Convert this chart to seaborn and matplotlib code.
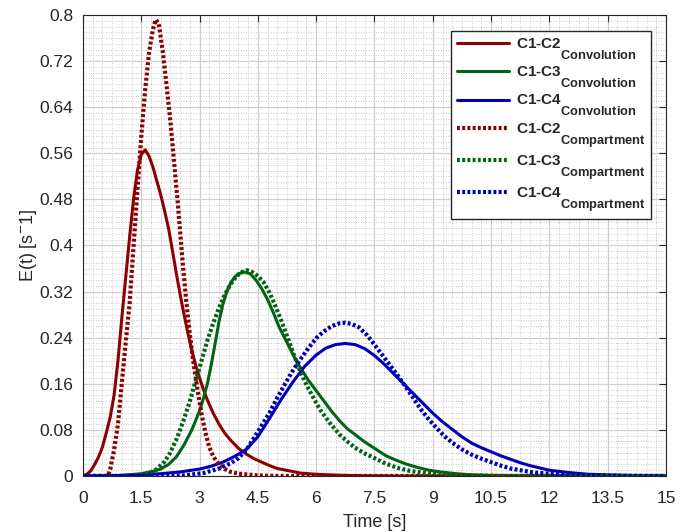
import numpy as np
import pandas as pd
import matplotlib
matplotlib.use('Agg')
import matplotlib.pyplot as plt
from matplotlib.ticker import MultipleLocator, FixedLocator
import matplotlib._mathtext as _mt
import seaborn as sns

# ---- data ----
t_conv12 = [0, 0.1, 0.2, 0.3, 0.4, 0.5, 0.6, 0.7, 0.8, 0.9, 1.0, 1.1, 1.2, 1.3, 1.4, 1.5, 1.6,
            1.7, 1.8, 1.9, 2.0, 2.1, 2.2, 2.3, 2.4, 2.5, 2.6, 2.7, 2.8, 2.9, 3.0, 3.1, 3.2, 3.35,
            3.5, 3.65, 3.8, 4.0, 4.2, 4.4, 4.6, 4.8, 5.0, 5.3, 5.6, 6.0, 6.5, 7.0, 8, 15]
E_conv12 = [0, 0.003, 0.009, 0.02, 0.033, 0.05, 0.075, 0.102, 0.14, 0.2, 0.275, 0.345, 0.415,
            0.48, 0.53, 0.558, 0.566, 0.555, 0.536, 0.512, 0.488, 0.46, 0.43, 0.392, 0.352,
            0.315, 0.28, 0.248, 0.218, 0.192, 0.17, 0.15, 0.132, 0.109, 0.09, 0.074, 0.062,
            0.048, 0.038, 0.03, 0.024, 0.018, 0.013, 0.009, 0.005, 0.003, 0.0015, 0.0007, 0, 0]

t_conv13 = [0, 0.5, 1.0, 1.5, 1.8, 2.0, 2.2, 2.4, 2.6, 2.8, 3.0, 3.1, 3.2, 3.3, 3.4, 3.5, 3.6,
            3.7, 3.8, 3.9, 4.0, 4.15, 4.3, 4.45, 4.6, 4.75, 4.9, 5.05, 5.2, 5.35, 5.5, 5.65, 5.8,
            6.0, 6.2, 6.4, 6.6, 6.8, 7.0, 7.25, 7.5, 7.8, 8.0, 8.3, 8.6, 8.9, 9.2, 9.6, 10, 10.5,
            11.5, 15]
E_conv13 = [0, 0, 0.001, 0.004, 0.008, 0.012, 0.02, 0.033, 0.054, 0.08, 0.113, 0.135, 0.16,
            0.193, 0.23, 0.268, 0.298, 0.32, 0.335, 0.345, 0.351, 0.354, 0.351, 0.34, 0.325,
            0.306, 0.283, 0.258, 0.238, 0.218, 0.198, 0.182, 0.166, 0.148, 0.13, 0.112, 0.096,
            0.082, 0.072, 0.059, 0.048, 0.035, 0.029, 0.021, 0.015, 0.01, 0.007, 0.004, 0.002,
            0.001, 0, 0]

t_conv14 = [0, 1.0, 1.5, 2.0, 2.5, 3.0, 3.3, 3.6, 3.9, 4.2, 4.5, 4.8, 5.1, 5.4, 5.7, 6.0,
            6.25, 6.5, 6.75, 7.0, 7.25, 7.5, 7.75, 8.0, 8.25, 8.5, 8.75, 9.0, 9.25, 9.5, 9.75,
            10.0, 10.25, 10.5, 10.75, 11.0, 11.25, 11.5, 11.75, 12.0, 12.5, 13.0, 13.5, 14.0, 15]
E_conv14 = [0, 0.001, 0.002, 0.004, 0.007, 0.012, 0.017, 0.024, 0.034, 0.046, 0.068, 0.1,
            0.133, 0.163, 0.19, 0.21, 0.222, 0.228, 0.230, 0.228, 0.221, 0.209, 0.194, 0.177,
            0.16, 0.143, 0.126, 0.109, 0.094, 0.081, 0.068, 0.057, 0.049, 0.042, 0.035, 0.029,
            0.023, 0.018, 0.014, 0.01, 0.006, 0.003, 0.002, 0.001, 0]

t_comp12 = [0, 0.6, 0.65, 0.7, 0.8, 0.9, 1.0, 1.1, 1.2, 1.3, 1.4, 1.5, 1.6, 1.7, 1.8, 1.87,
            1.95, 2.05, 2.15, 2.25, 2.35, 2.45, 2.55, 2.65, 2.75, 2.85, 2.95, 3.05, 3.15, 3.25,
            3.35, 3.5, 3.65, 3.8, 4.0, 4.5, 5, 15]
E_comp12 = [0, 0, 0.002, 0.012, 0.045, 0.09, 0.162, 0.232, 0.30, 0.398, 0.495, 0.59, 0.67,
            0.735, 0.775, 0.792, 0.785, 0.738, 0.678, 0.615, 0.54, 0.465, 0.382, 0.308, 0.245,
            0.193, 0.148, 0.108, 0.075, 0.05, 0.034, 0.02, 0.012, 0.007, 0.004, 0.001, 0, 0]

t_comp13 = [0, 1.2, 1.5, 1.7, 1.9, 2.1, 2.24, 2.4, 2.58, 2.75, 2.9, 3.05, 3.2, 3.35, 3.5, 3.65,
            3.8, 3.95, 4.1, 4.22, 4.35, 4.5, 4.65, 4.8, 4.95, 5.1, 5.25, 5.4, 5.55, 5.75, 5.95,
            6.1, 6.35, 6.6, 6.8, 7.0, 7.25, 7.5, 7.8, 8.1, 8.4, 8.7, 9.2, 10, 11, 15]
E_comp13 = [0, 0, 0.002, 0.005, 0.012, 0.025, 0.04, 0.063, 0.095, 0.13, 0.165, 0.2, 0.235,
            0.265, 0.292, 0.315, 0.333, 0.347, 0.354, 0.357, 0.354, 0.347, 0.336, 0.318, 0.295,
            0.27, 0.243, 0.215, 0.188, 0.158, 0.133, 0.115, 0.092, 0.072, 0.06, 0.049, 0.039,
            0.031, 0.021, 0.014, 0.009, 0.006, 0.003, 0.001, 0, 0]

t_comp14 = [0, 2.0, 2.6, 3.1, 3.5, 3.8, 4.0, 4.2, 4.4, 4.6, 4.8, 5.0, 5.2, 5.4, 5.6, 5.8, 6.0,
            6.2, 6.4, 6.6, 6.75, 6.9, 7.1, 7.3, 7.5, 7.7, 7.9, 8.1, 8.3, 8.5, 8.7, 8.9, 9.1, 9.3,
            9.5, 9.75, 10.0, 10.25, 10.5, 10.75, 11.0, 11.25, 11.6, 12.0, 12.5, 13.5, 15]
E_comp14 = [0, 0, 0.001, 0.005, 0.013, 0.022, 0.031, 0.045, 0.066, 0.088, 0.11, 0.136, 0.16,
            0.183, 0.203, 0.222, 0.239, 0.251, 0.26, 0.265, 0.266, 0.264, 0.258, 0.245, 0.228,
            0.21, 0.192, 0.174, 0.155, 0.135, 0.115, 0.098, 0.083, 0.069, 0.058, 0.046, 0.037,
            0.03, 0.024, 0.018, 0.013, 0.01, 0.006, 0.004, 0.002, 0.0005, 0]

pairs = ['C1-C2', 'C1-C3', 'C1-C4']
methods = ['Convolution', 'Compartment']
x_ticks = [0, 1.5, 3, 4.5, 6, 7.5, 9, 10.5, 12, 13.5, 15]
x_ticklabels = ['0', '1.5', '3', '4.5', '6', '7.5', '9', '10.5', '12', '13.5', '15']
y_ticks = [0, 0.08, 0.16, 0.24, 0.32, 0.4, 0.48, 0.56, 0.64, 0.72, 0.8]
y_ticklabels = ['0', '0.08', '0.16', '0.24', '0.32', '0.4', '0.48', '0.56', '0.64', '0.72', '0.8']

# ---- styling ----
sns.set_theme(style='white')
plt.rcParams['font.family'] = ['Liberation Sans', 'DejaVu Sans']
plt.rcParams['mathtext.fontset'] = 'custom'
plt.rcParams['mathtext.rm'] = 'Liberation Sans'
plt.rcParams['mathtext.bf'] = 'Liberation Sans:bold'
plt.rcParams['axes.unicode_minus'] = True
_mt.SHRINK_FACTOR = 0.845            # larger subscripts, like the reference
_mt.FontConstantsBase.sub1 = 1.25    # subscripts sit lower, like the reference

colors = {'C1-C2': '#8c0000', 'C1-C3': '#006414', 'C1-C4': '#0000b4'}

fig = plt.figure(figsize=(6.91, 5.32), dpi=100)
ax = fig.add_axes([0.1201, 0.1053, 0.8437, 0.8665])

series = {
    ('C1-C2', 'Convolution'): (t_conv12, E_conv12),
    ('C1-C3', 'Convolution'): (t_conv13, E_conv13),
    ('C1-C4', 'Convolution'): (t_conv14, E_conv14),
    ('C1-C2', 'Compartment'): (t_comp12, E_comp12),
    ('C1-C3', 'Compartment'): (t_comp13, E_comp13),
    ('C1-C4', 'Compartment'): (t_comp14, E_comp14),
}

for m in methods:
    for p in pairs:
        t, E = series[(p, m)]
        df = pd.DataFrame({'t': t, 'E': E})
        label = p + r'$_{\mathbf{' + m + '}}$'
        if m == 'Convolution':
            sns.lineplot(data=df, x='t', y='E', ax=ax, color=colors[p], lw=2.2,
                         linestyle='-', label=label, sort=True)
        else:
            sns.lineplot(data=df, x='t', y='E', ax=ax, color=colors[p], lw=3.0,
                         linestyle=(0, (0.7, 0.55)), label=label, sort=True)

ax.set_xlim(0, 15)
ax.set_ylim(0, 0.8)
ax.xaxis.set_major_locator(FixedLocator(x_ticks))
ax.set_xticklabels(x_ticklabels)
ax.yaxis.set_major_locator(FixedLocator(y_ticks))
ax.set_yticklabels(y_ticklabels)
ax.xaxis.set_minor_locator(MultipleLocator(0.25))
ax.yaxis.set_minor_locator(MultipleLocator(0.01))

ax.grid(True, which='major', color='#d0d0d0', lw=0.9, ls='-')
ax.grid(True, which='minor', color='#b8b8b8', lw=0.6, ls=(0, (1, 2)))
ax.set_axisbelow(True)

ax.tick_params(axis='x', which='major', pad=10.5)
ax.tick_params(axis='y', which='major', pad=7)
ax.tick_params(axis='both', which='major', direction='in', length=5, width=0.8,
               top=True, right=True, labelsize=12.5, colors='#262626')
ax.tick_params(axis='both', which='minor', length=0)
for s in ax.spines.values():
    s.set_color('#262626')
    s.set_linewidth(0.8)

ax.set_xlabel('Time [s]', fontsize=13, color='#262626', labelpad=6)
ax.set_ylabel('E(t) [s$^{-}$1]', fontsize=13, color='#262626', labelpad=0)

leg = ax.legend(loc='upper right', bbox_to_anchor=(0.9743, 0.9653), frameon=True,
                fancybox=False, framealpha=1, edgecolor='#262626', handlelength=3.45,
                handletextpad=0.42, labelspacing=0.2, borderpad=0.35, borderaxespad=0,
                prop={'family': 'Liberation Sans', 'weight': 'bold', 'size': 11})
leg.get_frame().set_linewidth(1.0)

fig.savefig('out.png', dpi=100)
